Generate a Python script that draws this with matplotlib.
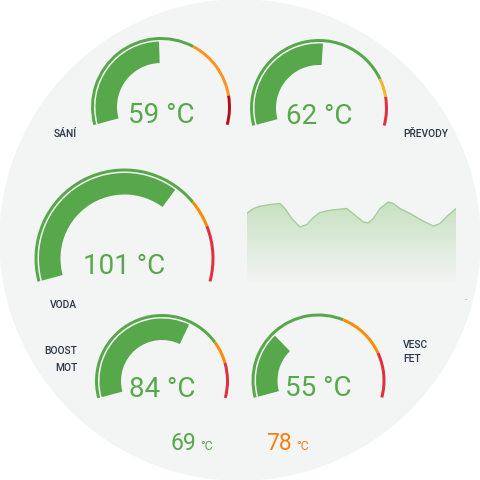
import matplotlib.pyplot as plt
from matplotlib.patches import Wedge, Circle
from matplotlib.colors import LinearSegmentedColormap
import numpy as np

plt.rcParams['font.family'] = ['Roboto', 'DejaVu Sans']

GREEN = '#57a84b'
ORANGE = '#ff9422'
RED = '#e3303f'
DARKRED = '#b3121c'
YELLOW = '#f0b72b'
LABEL = '#2b3546'

# gauges: name, value, max, segment limits, segment colours
g_names = [['SÁNÍ'], ['PŘEVODY'], ['VODA'], ['BOOST', 'MOT'], ['VESC', 'FET']]
g_values = [59, 62, 101, 84, 55]
g_max = [120, 120, 150, 135, 190]
g_limits = [[76, 106], [97, 106], [111, 124], [102, 115], [115, 154]]
g_colors = [[GREEN, ORANGE, DARKRED], [GREEN, YELLOW, RED], [GREEN, '#ff8a00', RED],
            [GREEN, '#ff8a00', RED], [GREEN, '#ff8a00', RED]]

# sparkline (history of temperature)
spark_t = [6.7, 13.3, 20, 30, 40, 45, 51.7, 60, 66.7, 73.3, 80, 90, 106.7, 115,
           123.3, 128.3, 133.3, 140, 148.3, 153.3, 160, 170, 181.7, 193.3, 200, 208.3, 216]
spark_v = [67.9, 69.9, 70.8, 71.5, 71.9, 69.9, 65.9, 62.5, 63.5, 66.3, 68.3, 69.2, 69.9, 67.2,
           64.5, 64.1, 65.9, 69.9, 72.5, 71.9, 69.9, 67.9, 65.2, 62.9, 63.9, 67.2, 69.9]

# bottom readouts
bottom_vals = ['69', '78']
bottom_cols = [GREEN, '#ff7d12']

# layout
centers = [(161, 107), (319, 108), (124.5, 258.5), (162, 381), (318.5, 380.5)]
radii = [70, 69, 90, 67, 67]
label_pos = [(65, [134], 'center'), (426, [134], 'center'), (63, [305], 'center'),
             (77, [351, 368], 'right'), (403, [345, 359], 'left')]
A0, A1 = 195, -15

fig = plt.figure(figsize=(4.8, 4.8), dpi=100)
fig.patch.set_facecolor('white')
ax = fig.add_axes([0, 0, 1, 1])
ax.set_xlim(0, 480)
ax.set_ylim(480, 0)
ax.axis('off')
ax.add_patch(Circle((240, 240), 240, color='#f3f4f4', zorder=0))


def ang(v, vmax):
    return A0 - (A0 - A1) * v / vmax


def arc(c, r, w, a_from, a_to, color):
    ax.add_patch(Wedge(c, r, -a_from, -a_to, width=w, color=color, lw=0, zorder=2))


for i in range(len(g_names)):
    c, r, vmax = centers[i], radii[i], g_max[i]
    edges = [0] + g_limits[i] + [vmax]
    for k in range(3):
        arc(c, r, 3, ang(edges[k], vmax), ang(edges[k + 1], vmax), g_colors[i][k])
    arc(c, r - 4.5, 21.5, A0, ang(g_values[i], vmax), GREEN)
    ax.text(c[0], c[1] + 16, f'{g_values[i]} °C', color=GREEN, fontsize=20,
            ha='center', va='baseline')
    lx, lys, lha = label_pos[i]
    for line, ly in zip(g_names[i], lys):
        ax.text(lx, ly, line, color=LABEL, fontsize=7.4, fontweight='medium',
                ha=lha, va='center')

# sparkline
sp = fig.add_axes([246.7 / 480, 1 - 283.3 / 480, (456 - 246.7) / 480, (283.3 - 190) / 480])
sp.set_xlim(min(spark_t), max(spark_t))
sp.set_ylim(40, 77.3)
sp.axis('off')
poly = sp.fill_between(spark_t, 40, spark_v, color='none', lw=0)
grad = np.linspace(0, 1, 256).reshape(-1, 1)
cm = LinearSegmentedColormap.from_list('g', ['#f3f4f4', '#c4e0bd'])
im = sp.imshow(grad, cmap=cm, aspect='auto', origin='lower',
               extent=[min(spark_t), max(spark_t), 40, 74])
im.set_clip_path(poly.get_paths()[0], transform=sp.transData)
sp.plot(spark_t, spark_v, color='#a3cf98', lw=1.0)
ax.text(466, 300, '-', color='#999999', fontsize=6, ha='center', va='center')

# bottom readouts
for x, v, col in zip([170, 266], bottom_vals, bottom_cols):
    ax.text(x, 450, v, color=col, fontsize=16.5, ha='left', va='baseline')
    ax.text(x + 30, 450, '°C', color=col, fontsize=9, ha='left', va='baseline')

fig.savefig('out.png', dpi=100)
